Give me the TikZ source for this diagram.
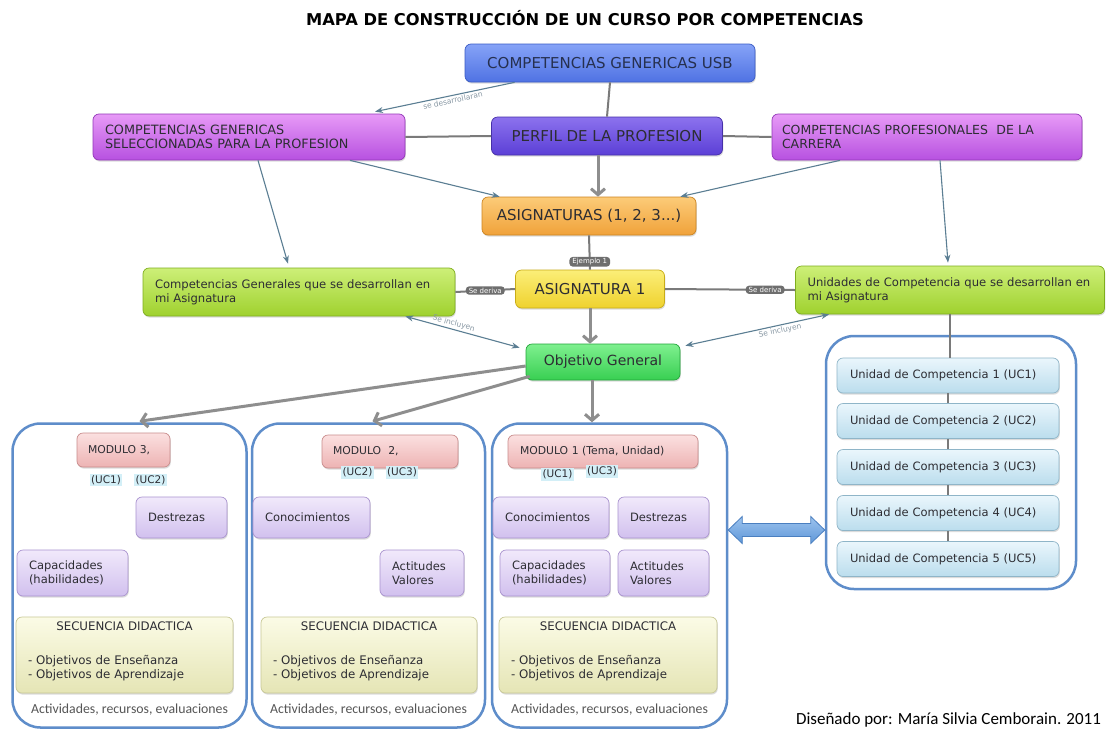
\documentclass[tikz,border=0pt]{standalone}
\usepackage{fontspec}
\setmainfont{DejaVu Sans}
\newfontfamily\calib{Carlito}
\usetikzlibrary{arrows.meta,shadows,calc}
\newcommand{\fsz}[2]{\fontsize{#1}{#2}\selectfont}
\definecolor{txt}{HTML}{2D2D33}
\definecolor{usbTxt}{HTML}{26304F}
\definecolor{usbT}{HTML}{86A3F7}\definecolor{usbB}{HTML}{4F72E3}\definecolor{usbD}{HTML}{3A5BC4}
\definecolor{perT}{HTML}{8C72EE}\definecolor{perB}{HTML}{5B3FD6}\definecolor{perD}{HTML}{4630A8}
\definecolor{magT}{HTML}{E79AF7}\definecolor{magB}{HTML}{B751E0}\definecolor{magD}{HTML}{9237B8}
\definecolor{oraT}{HTML}{FCCB78}\definecolor{oraB}{HTML}{F0A23A}\definecolor{oraD}{HTML}{CC8420}
\definecolor{yelT}{HTML}{FBEE78}\definecolor{yelB}{HTML}{EFD22E}\definecolor{yelD}{HTML}{C8AC18}
\definecolor{limT}{HTML}{CDEF78}\definecolor{limB}{HTML}{9FD12E}\definecolor{limD}{HTML}{7FAE1E}
\definecolor{grnT}{HTML}{7FF08F}\definecolor{grnB}{HTML}{38CF52}\definecolor{grnD}{HTML}{22A53A}
\definecolor{modT}{HTML}{FBE0E0}\definecolor{modB}{HTML}{EDB3B3}\definecolor{modD}{HTML}{C98C8C}
\definecolor{lavT}{HTML}{F1E9FB}\definecolor{lavB}{HTML}{D1C0EE}\definecolor{lavD}{HTML}{A993CF}
\definecolor{seqT}{HTML}{FBFBE6}\definecolor{seqB}{HTML}{E5E5B5}\definecolor{seqD}{HTML}{C8C896}
\definecolor{ucT}{HTML}{EAF6FC}\definecolor{ucB}{HTML}{BBDDED}\definecolor{ucD}{HTML}{8FB5C8}
\definecolor{uclC}{HTML}{D3EFF7}
\definecolor{contC}{HTML}{5E8DCA}
\definecolor{steelC}{HTML}{5B7E93}
\definecolor{fatC}{HTML}{8E8E8E}
\definecolor{linkC}{HTML}{7A7A7A}
\definecolor{pillC}{HTML}{6E6E6E}
\definecolor{elabC}{HTML}{8797A3}
\definecolor{dblT}{HTML}{9CC3EE}\definecolor{dblB}{HTML}{5F97D8}\definecolor{dblD}{HTML}{4A7FC0}
\definecolor{actC}{HTML}{555555}
\begin{document}
\begin{tikzpicture}[x=1pt,y=-1pt,
  shad/.style={drop shadow={opacity=0.28,shadow xshift=0.8pt,shadow yshift=-1.6pt}},
  box/.style={rounded corners=6pt, line width=0.7pt, text=txt, shad, inner sep=0pt, align=center},
  lbox/.style={box, align=left, inner xsep=12pt},
  usbbox/.style={box, top color=usbT, bottom color=usbB, draw=usbD, text=usbTxt},
  perbox/.style={box, top color=perT, bottom color=perB, draw=perD},
  magbox/.style={lbox, top color=magT, bottom color=magB, draw=magD},
  orabox/.style={box, top color=oraT, bottom color=oraB, draw=oraD},
  yelbox/.style={box, top color=yelT, bottom color=yelB, draw=yelD},
  limbox/.style={lbox, top color=limT, bottom color=limB, draw=limD},
  grnbox/.style={box, top color=grnT, bottom color=grnB, draw=grnD},
  modbox/.style={lbox, top color=modT, bottom color=modB, draw=modD, minimum height=33pt, inner xsep=11pt, font=\fsz{10.8}{13}},
  lavbox/.style={lbox, top color=lavT, bottom color=lavB, draw=lavD, font=\fsz{11.5}{13.5}},
  seqbox/.style={lbox, top color=seqT, bottom color=seqB, draw=seqD, minimum height=76pt, font=\fsz{11.8}{14}},
  ucbx/.style={lbox, top color=ucT, bottom color=ucB, draw=ucD, text width=196pt, inner xsep=13pt, minimum height=35pt, font=\fsz{11.5}{13}},
  ucl/.style={fill=uclC, text=txt, font=\fsz{10.5}{12}, inner xsep=1.5pt, inner ysep=1.5pt},
  cont/.style={draw=contC, line width=2.5pt, rounded corners=28pt, fill=white, inner sep=0pt},
  acttext/.style={font=\calib\fsz{13.8}{15}, text=actC},
  steel/.style={draw=steelC, line width=1.1pt, -{Stealth[length=8pt,width=6pt]}},
  steeltwo/.style={draw=steelC, line width=1.1pt, {Stealth[length=8pt,width=6pt]}-{Stealth[length=8pt,width=6pt]}},
  fatarrow/.style={draw=fatC, line width=3pt, -{Straight Barb[length=6pt,width=14pt]}},
  glink/.style={draw=linkC, line width=2pt},
  uline/.style={draw=linkC, line width=1.5pt},
  pill/.style={fill=pillC, text=white, font=\fsz{7}{8}, rounded corners=3.5pt, inner xsep=3pt, inner ysep=1.5pt},
  elab/.style={text=elabC, font=\fsz{7.5}{9}, inner sep=1.5pt},
  dbl/.style={top color=dblT, bottom color=dblB, draw=dblD, line width=0.8pt}
]
\fill[white] (0,0) rectangle (1106,729);
\useasboundingbox (0,0) rectangle (1106,729);

% title
\node[font=\fsz{15.5}{18}\bfseries, text=black] (title) at (585,18) {\scalebox{1.05}[1.05]{MAPA DE CONSTRUCCIÓN DE UN CURSO POR COMPETENCIAS}};

% top nodes
\node[usbbox, minimum width=290pt, minimum height=38pt, font=\fsz{15}{18}] (usb) at (610,63) {COMPETENCIAS GENERICAS USB};
\node[perbox, minimum width=231pt, minimum height=38pt, font=\fsz{15}{18}] (perfil) at (607,136) {PERFIL DE LA PROFESION};
\node[magbox, text width=288pt, minimum height=46pt, font=\fsz{12.8}{14}] (cgs) at (249,137) {COMPETENCIAS GENERICAS\\SELECCIONADAS PARA LA PROFESION};
\node[magbox, text width=290pt, inner xsep=10pt, minimum height=46pt, font=\fsz{12.5}{14}] (cpc) at (927,137) {COMPETENCIAS PROFESIONALES \ DE LA\\CARRERA};
\node[orabox, minimum width=214pt, minimum height=38pt, font=\fsz{15}{18}] (asigs) at (589,216) {ASIGNATURAS (1, 2, 3...)};
\node[yelbox, minimum width=149pt, minimum height=38pt, font=\fsz{15}{18}] (asig1) at (590,289) {ASIGNATURA 1};
\node[limbox, text width=288pt, minimum height=48pt, font=\fsz{11.6}{14}] (cga) at (299,292) {Competencias Generales que se desarrollan en\\mi Asignatura};
\node[limbox, text width=285pt, minimum height=48pt, font=\fsz{11.6}{14}] (uca) at (950,290) {Unidades de Competencia que se desarrollan en\\mi Asignatura};
\node[grnbox, minimum width=154pt, minimum height=36pt, font=\fsz{14}{17}] (obj) at (603,362) {Objetivo General};

% containers
\node[cont, minimum width=234pt, minimum height=304pt] (m3box) at (129.5,575.5) {};
\node[cont, minimum width=233pt, minimum height=304pt] (m2box) at (368.5,575.5) {};
\node[cont, minimum width=235pt, minimum height=304pt] (m1box) at (609.5,575.5) {};
\node[cont, minimum width=250pt, minimum height=253pt] (ucbox) at (951,462.5) {};

% module 3
\node[modbox, text width=71pt, minimum height=34pt] (mod3) at (123.5,450) {MODULO 3,};
\node[ucl] (m3u1) at (106,480) {(UC1)};
\node[ucl] (m3u2) at (150.5,480) {(UC2)};
\node[lavbox, text width=67pt, minimum height=41pt] (des3) at (181.5,517.5) {Destrezas};
\node[lavbox, text width=87pt, minimum height=46pt] (cap3) at (72.5,573) {Capacidades\\(habilidades)};
\node[seqbox, text width=193pt] (seq3) at (124.5,655) {\centerline{SECUENCIA DIDACTICA}\vskip 20pt\noindent - Objetivos de Enseñanza\\- Objetivos de Aprendizaje\par\vskip -4pt\hbox{}};
\node[acttext] (act3) at ($(m3box.south)+(0,-19)$) {Actividades, recursos, evaluaciones};

% module 2
\node[modbox, text width=114pt] (mod2) at (390,451.5) {MODULO \ 2,};
\node[ucl] (m2u2) at (357.5,472.5) {(UC2)};
\node[ucl] (m2u3) at (402,472.5) {(UC3)};
\node[lavbox, text width=93pt, minimum height=41pt] (con2) at (311.5,517.5) {Conocimientos};
\node[lavbox, text width=60pt, minimum height=46pt] (act2) at (422,573) {Actitudes\\Valores};
\node[seqbox, text width=192pt] (seq2) at (369,655) {\centerline{SECUENCIA DIDACTICA}\vskip 20pt\noindent - Objetivos de Enseñanza\\- Objetivos de Aprendizaje\par\vskip -4pt\hbox{}};
\node[acttext] (actv2) at ($(m2box.south)+(0,-19)$) {Actividades, recursos, evaluaciones};

% module 1
\node[modbox, text width=166pt, inner xsep=12pt] (mod1) at (603,451.5) {MODULO 1 (Tema, Unidad)};
\node[ucl] (m1u1) at (557.5,474.5) {(UC1)};
\node[ucl] (m1u3) at (602,471.5) {(UC3)};
\node[lavbox, text width=92pt, minimum height=41pt] (con1) at (551,517.5) {Conocimientos};
\node[lavbox, text width=67pt, minimum height=41pt] (des1) at (663.5,517.5) {Destrezas};
\node[lavbox, text width=86pt, minimum height=46pt] (cap1) at (555,573) {Capacidades\\(habilidades)};
\node[lavbox, text width=67pt, minimum height=46pt] (act1) at (663.5,573) {Actitudes\\Valores};
\node[seqbox, text width=194pt] (seq1) at (608,655) {\centerline{SECUENCIA DIDACTICA}\vskip 20pt\noindent - Objetivos de Enseñanza\\- Objetivos de Aprendizaje\par\vskip -4pt\hbox{}};
\node[acttext] (actv1) at ($(m1box.south)+(0,-19)$) {Actividades, recursos, evaluaciones};

% unidades de competencia
\node[ucbx] (uc1) at (948,375.5) {Unidad de Competencia 1 (UC1)};
\node[ucbx] (uc2) at (948,421) {Unidad de Competencia 2 (UC2)};
\node[ucbx] (uc3) at (948,467) {Unidad de Competencia 3 (UC3)};
\node[ucbx] (uc4) at (948,513) {Unidad de Competencia 4 (UC4)};
\node[ucbx] (uc5) at (948,559) {Unidad de Competencia 5 (UC5)};

% credit
\node[font=\calib\fsz{17}{19}, text=black] (dis) at (948.5,720) {Diseñado por: María Silvia Cemborain. 2011};

% connectors
\draw[steel] ($(usb.south west)+(50,0)$) -- node[elab, sloped, below, pos=0.45]{se desarrollaran} ($(cgs.north)+(126,-2)$);
\draw[glink] (usb.south) -- (perfil.north);
\draw[glink] (cgs.east) -- (perfil.west);
\draw[glink] (perfil.east) -- (cpc.west);
\coordinate (pa) at ($(perfil.south)+(-9,0)$);
\draw[fatarrow] (pa) -- (pa |- asigs.north);
\draw[steel] ($(cgs.south)+(101,0)$) -- ($(asigs.north west)+(18,0)$);
\draw[steel] ($(cgs.south)+(9,0)$) -- ($(cga.north)+(-11,-4)$);
\draw[steel] ($(cpc.south)+(-87,0)$) -- ($(asigs.north east)+(-16,0)$);
\draw[steel] ($(cpc.south)+(13,0)$) -- ($(uca.north)+(-2,-3)$);
\draw[glink] (asigs.south) -- node[pill, pos=0.77]{Ejemplo 1} (asig1.north);
\draw[glink] (asig1.west) -- node[pill]{Se deriva} (cga.east);
\draw[glink] (asig1.east) -- node[pill, pos=0.77]{Se deriva} (uca.west);
\draw[fatarrow] (asig1.south) -- (asig1.south |- obj.north);
\draw[steeltwo] ($(cga.south east)+(-50,0)$) -- node[elab, sloped, above, pos=0.41]{Se incluyen} ($(obj.north west)+(-6,4)$);
\draw[steeltwo] ($(uca.south west)+(34,0)$) -- node[elab, sloped, below, pos=0.35]{Se incluyen} ($(obj.north east)+(5,2)$);
\draw[fatarrow] ($(obj.west)+(0,4)$) -- ($(m3box.north)+(10,-1)$);
\draw[fatarrow] ($(obj.south west)+(4,-4)$) -- ($(m2box.north)+(4,-1)$);
\coordinate (ob1) at ($(obj.south)+(-11,0)$);
\draw[fatarrow] (ob1) -- (ob1 |- m1box.north);
\draw[uline] (uca.south) -- (uca.south |- uc1.north);
\draw[uline] (uc1.south) -- (uc2.north);
\draw[uline] (uc2.south) -- (uc3.north);
\draw[uline] (uc3.south) -- (uc4.north);
\draw[uline] (uc4.south) -- (uc5.north);

% double block arrow between module 1 and the UC column
\coordinate (dA) at ($(m1box.east)+(0,-45.5)$);
\coordinate (dB) at ($(ucbox.west)+(0,67.5)$);
\path[dbl] (dA) -- ($(dA)+(14,-13.5)$) -- ($(dA)+(14,-6.5)$) -- ($(dB)+(-14,-6.5)$) -- ($(dB)+(-14,-13.5)$) -- (dB) -- ($(dB)+(-14,13.5)$) -- ($(dB)+(-14,6.5)$) -- ($(dA)+(14,6.5)$) -- ($(dA)+(14,13.5)$) -- cycle;
\end{tikzpicture}
\end{document}
